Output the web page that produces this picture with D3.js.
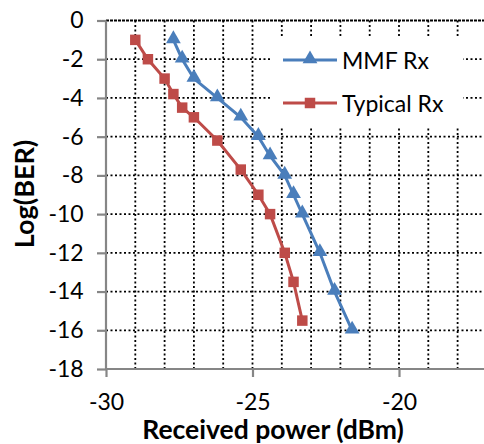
<!DOCTYPE html>
<html><head><meta charset="utf-8">
<script src="https://cdn.jsdelivr.net/npm/d3@7"></script>
<style>body{margin:0;background:#fff}svg{display:block}</style>
</head><body>
<script>
const mmfX = [-27.7,-27.4,-27.0,-26.2,-25.4,-24.8,-24.4,-23.9,-23.6,-23.3,-22.7,-22.2,-21.6];
const mmfY = [-1,-2,-3,-4,-5,-6,-7,-8,-9,-10,-12,-14,-16];
const typX = [-29.0,-28.57,-28.0,-27.7,-27.4,-27.0,-26.2,-25.4,-24.8,-24.4,-23.9,-23.6,-23.3];
const typY = [-1,-2,-3,-3.8,-4.5,-5,-6.2,-7.7,-9,-10,-12,-13.5,-15.5];
const xTicks = [-30,-25,-20];
const yTicks = [0,-2,-4,-6,-8,-10,-12,-14,-16,-18];
const seriesNames = ["MMF Rx","Typical Rx"];
const colors = ["#4A7EBB","#BE4B48"];

const W=484,H=444;
const svg=d3.select("body").append("svg").attr("width",W).attr("height",H);
const x=d3.scaleLinear().domain([-30,-15]).range([106,106+15*29.3]);
const y=d3.scaleLinear().domain([-18,0]).range([369,20.5]);
const font="Lato, 'Open Sans', sans-serif";
const fmt=d=>String(d);

// gridlines
const g=svg.append("g");
d3.range(-29,-15).forEach(v=>{
  g.append("line").attr("x1",x(v)).attr("x2",x(v)).attr("y1",y(0)).attr("y2",y(-18))
   .attr("stroke","#000").attr("stroke-width",1.8).attr("stroke-dasharray","2,2.5");
});
yTicks.filter(v=>v>-18).forEach(v=>{
  g.append("line").attr("x1",x(-30)).attr("x2",W).attr("y1",y(v)).attr("y2",y(v))
   .attr("stroke","#000").attr("stroke-width",1.8).attr("stroke-dasharray",v===0?"3,1":"2,2.5");
});

// legend background
svg.append("rect").attr("x",270).attr("y",38).attr("width",193).attr("height",89).attr("fill","#fff");

// axes
const xAxis=d3.axisBottom(x).tickValues(xTicks).tickSize(8).tickFormat(fmt);
const yAxis=d3.axisLeft(y).tickValues(yTicks).tickSize(9).tickFormat(fmt);
const ax=svg.append("g").attr("transform",`translate(0,${y(-18)})`).call(xAxis);
const ay=svg.append("g").attr("transform",`translate(${x(-30)},0)`).call(yAxis);
[ax,ay].forEach(a=>{
  a.select(".domain").attr("stroke","#868686").attr("stroke-width",2.2);
  a.selectAll(".tick line").attr("stroke","#868686").attr("stroke-width",2.2);
  a.selectAll("text").attr("font-family",font).attr("font-size",23).attr("fill","#000");
});
ax.select(".domain").attr("d",`M${x(-30)},0H${W+5}`);
ay.select(".domain").attr("d",`M0,${y(0)}V${y(-18)}`);
ax.selectAll(".tick text").attr("dy","1.3em");
ay.selectAll(".tick text").attr("dx","-0.45em");

// series
const line=d3.line().x(d=>x(d[0])).y(d=>y(d[1]));
const mmf=mmfX.map((v,i)=>[v,mmfY[i]]);
const typ=typX.map((v,i)=>[v,typY[i]]);
const tri=d3.symbol().type(d3.symbolTriangle).size(95);
const sq=d3.symbol().type(d3.symbolSquare).size(110);

svg.append("path").datum(typ).attr("d",line).attr("fill","none").attr("stroke",colors[1]).attr("stroke-width",3);
svg.selectAll(".sq").data(typ).enter().append("path").attr("d",sq)
  .attr("transform",d=>`translate(${x(d[0])},${y(d[1])})`).attr("fill",colors[1]);
svg.append("path").datum(mmf).attr("d",line).attr("fill","none").attr("stroke",colors[0]).attr("stroke-width",3);
svg.selectAll(".tri").data(mmf).enter().append("path").attr("d",tri)
  .attr("transform",d=>`translate(${x(d[0])},${y(d[1])-1})`).attr("fill",colors[0]);

// legend
const leg=[{y:60,sym:tri,dy:-1},{y:103,sym:sq,dy:0}];
leg.forEach((l,i)=>{
  svg.append("line").attr("x1",283).attr("x2",337).attr("y1",l.y).attr("y2",l.y).attr("stroke",colors[i]).attr("stroke-width",3);
  svg.append("path").attr("d",l.sym).attr("transform",`translate(310,${l.y+l.dy})`).attr("fill",colors[i]);
  svg.append("text").attr("x",342).attr("y",l.y+9).text(seriesNames[i])
    .attr("font-family",font).attr("font-size",23).attr("fill","#000");
});

// titles
svg.append("text").attr("x",273).attr("y",439).attr("text-anchor","middle")
  .attr("font-family",font).attr("font-weight","bold").attr("font-size",26.5).text("Received power (dBm)");
svg.append("text").attr("transform","translate(34,194) rotate(-90)").attr("text-anchor","middle")
  .attr("font-family",font).attr("font-weight","bold").attr("font-size",27).text("Log(BER)");
</script>
</body></html>
